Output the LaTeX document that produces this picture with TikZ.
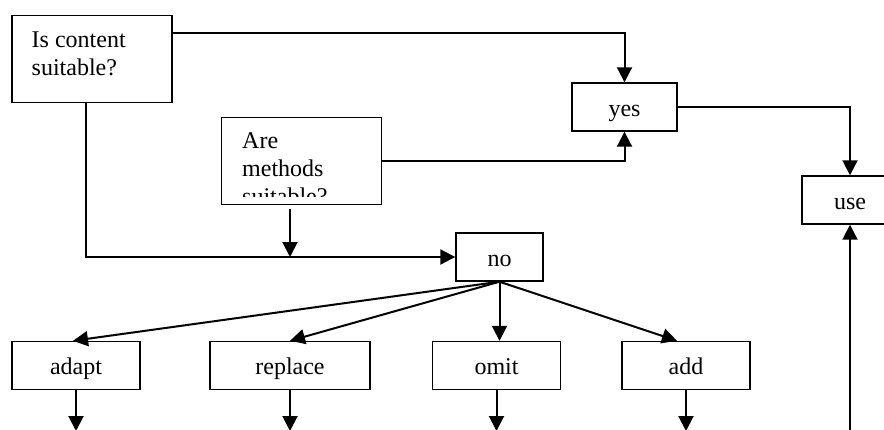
\documentclass[tikz,border=0pt]{standalone}
\usepackage{fontspec}
\setmainfont{Liberation Serif}
\usetikzlibrary{arrows.meta}
\usetikzlibrary{calc}
\usetikzlibrary{positioning}
\newcommand{\heightbox}{24pt}
\newcommand{\widthoption}{64pt}
\newcommand{\widthquestion}{80pt}
\tikzset{
    box/.style={draw, rectangle, line width=0.7pt, minimum height=\heightbox, inner sep=0pt,
        text height=16.5pt, text depth=7.5pt},
    option/.style={box, minimum width=\widthoption},
    question/.style={draw, rectangle, line width=0.7pt, minimum width=\widthquestion, minimum height=43.5pt},
    qtext/.style={anchor=base west, align=left, inner sep=0pt},
    arr/.style={line width=1pt, -{Triangle[length=7.5pt, width=7.5pt]}},
}

\begin{document}
\begin{tikzpicture}[x=0.5pt, y=-0.5pt, font=\fontsize{12}{14}\selectfont]
    \clip (0,0) rectangle (884,429);
    % the two questions
    \node[question] (content) at (92,59) {};
    \node[qtext] at ($(content.north west)+(20,61)$) {Is content\\suitable?};
    \node[question] (methods) at (301.5,161) {};
    \begin{scope}
        \clip (methods.north west) rectangle ($(methods.south east)+(0,-9)$);
        \node[qtext] at ($(methods.north west)+(21,88)$) {Are\\methods\\suitable?};
    \end{scope}
    % answers
    \node[box, minimum width=52.5pt] (yes) at (624.5,107) {yes};
    \node[box, minimum width=48pt] (use) at (850,200) {use};
    \node[box, minimum width=43.5pt] (no) at (499.5,257) {no};
    % what to do with it
    \node[option] (adapt) at (76,365.5) {adapt};
    \node[option, minimum width=80pt] (replace) at (290,365.5) {replace};
    \node[option] (omit) at (496.5,365.5) {omit};
    \node[option] (add) at (686,365.5) {add};

    \draw[arr] ($(content.north east)+(0,18)$) -| (yes.north);
    \draw[arr] (methods.east) -| (yes.south);
    \draw[arr] (yes.east) -| (use.north);
    \draw[arr] ($(content.south)+(-6,0)$) |- (no.west);
    \coordinate (drop) at ($(methods.south)+(-11.5,4)$);
    \draw[arr] (drop) -- (drop |- no.west);

    \draw[arr] (no.south) -- ($(adapt.north)+(-3,0)$);
    \draw[arr] (no.south) -- (replace.north);
    \draw[arr] (no.south) -- (no.south |- omit.north);
    \draw[arr] (no.south) -- ($(add.north)+(-9,0)$);

    \coordinate (bottom) at (0,431);
    \foreach \n in {adapt,replace,omit,add}
        \draw[arr] (\n.south) -- (\n.south |- bottom);
    \draw[arr] (use.south |- bottom) -- (use.south);
\end{tikzpicture}
\end{document}
